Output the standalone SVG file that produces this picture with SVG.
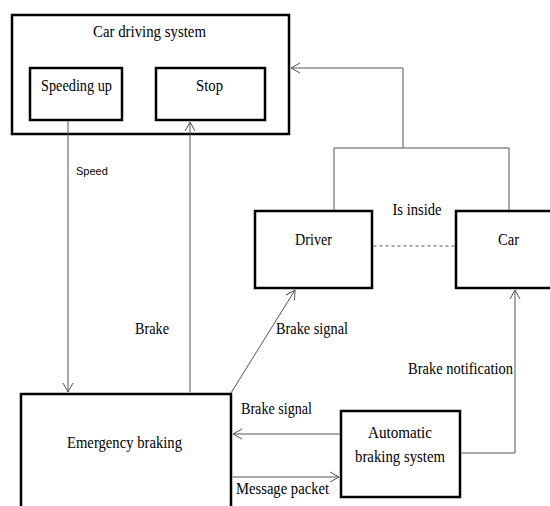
<svg xmlns="http://www.w3.org/2000/svg" width="550" height="506" viewBox="0 0 550 506">
<style>
.box{fill:#fff;stroke:#000;stroke-width:2.5}
.t{font-family:"Liberation Serif","Times New Roman",serif;font-size:17px;fill:#000;text-anchor:middle}
.c{fill:none;stroke:#555;stroke-width:1}
.s{font-family:"Liberation Sans",Arial,sans-serif;font-size:11px;fill:#000}
</style>
<defs>
<marker id="a" markerWidth="12" markerHeight="12" refX="10" refY="6" orient="auto" markerUnits="userSpaceOnUse">
<path d="M1,1 L10,6 L1,11" fill="none" stroke="#555" stroke-width="1"/>
</marker>
</defs>
<rect width="550" height="506" fill="#fff"/>
<g id="car-driving-system">
<rect class="box" x="12" y="15" width="277" height="119"/>
<text class="t" x="149.5" y="37" textLength="113" lengthAdjust="spacingAndGlyphs">Car driving system</text>
</g>
<g id="speeding-up">
<rect class="box" x="30" y="68" width="92" height="52"/>
<text class="t" x="76.5" y="91" textLength="71" lengthAdjust="spacingAndGlyphs">Speeding up</text>
</g>
<g id="stop">
<rect class="box" x="156" y="68" width="109" height="52"/>
<text class="t" x="209.5" y="91" textLength="27" lengthAdjust="spacingAndGlyphs">Stop</text>
</g>
<g id="driver">
<rect class="box" x="255" y="211" width="117" height="77"/>
<text class="t" x="313.5" y="245" textLength="37" lengthAdjust="spacingAndGlyphs">Driver</text>
</g>
<g id="car">
<rect class="box" x="456" y="211" width="100" height="77"/>
<text class="t" x="508.5" y="245" textLength="21" lengthAdjust="spacingAndGlyphs">Car</text>
</g>
<g id="emergency-braking">
<rect class="box" x="21" y="394" width="210" height="120"/>
<text class="t" x="124.5" y="448" textLength="115" lengthAdjust="spacingAndGlyphs">Emergency braking</text>
</g>
<g id="automatic-braking-system">
<rect class="box" x="341" y="411" width="119" height="86"/>
<text class="t" x="400" y="438" textLength="64" lengthAdjust="spacingAndGlyphs">Automatic</text>
<text class="t" x="400" y="462" textLength="90" lengthAdjust="spacingAndGlyphs">braking system</text>
</g>
<g id="connectors">
<line class="c" x1="68" y1="121.5" x2="68" y2="392" marker-end="url(#a)"/>
<line class="c" x1="190" y1="392.5" x2="190" y2="122" marker-end="url(#a)"/>
<polyline class="c" points="334,210 334,148 509,148 509,210"/>
<polyline class="c" points="403,148 403,68 291,68" marker-end="url(#a)"/>
<line x1="373.5" y1="246" x2="454.5" y2="246" stroke="#555" stroke-width="1" stroke-dasharray="3,3"/>
<line class="c" x1="231" y1="393" x2="295" y2="290" marker-end="url(#a)"/>
<line class="c" x1="340" y1="434" x2="233" y2="434" marker-end="url(#a)"/>
<line class="c" x1="232.5" y1="477" x2="339" y2="477" marker-end="url(#a)"/>
<polyline class="c" points="461.5,453 515,453 515,290" marker-end="url(#a)"/>
<text class="s" x="76" y="175">Speed</text>
<text class="t" x="152" y="334" textLength="34" lengthAdjust="spacingAndGlyphs">Brake</text>
<text class="t" x="312" y="334" textLength="72" lengthAdjust="spacingAndGlyphs">Brake signal</text>
<text class="t" x="417" y="215" textLength="49" lengthAdjust="spacingAndGlyphs">Is inside</text>
<text class="t" x="460.5" y="374" textLength="105" lengthAdjust="spacingAndGlyphs">Brake notification</text>
<text class="t" x="276.5" y="414" textLength="71" lengthAdjust="spacingAndGlyphs">Brake signal</text>
<text class="t" x="282.5" y="494" textLength="93" lengthAdjust="spacingAndGlyphs">Message packet</text>
</g>
</svg>
